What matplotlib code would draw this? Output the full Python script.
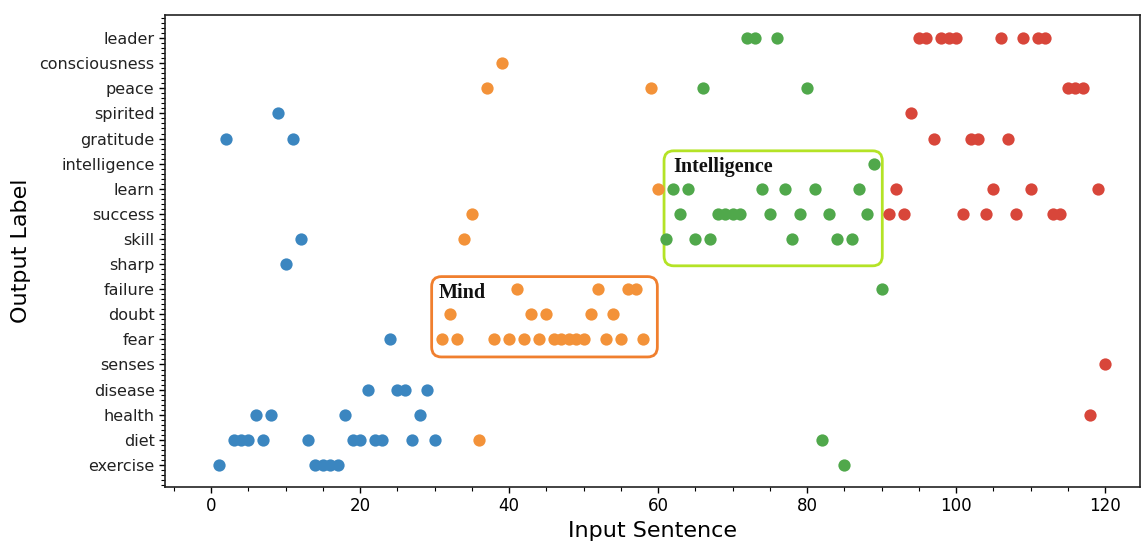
import matplotlib
matplotlib.use("Agg")
import matplotlib.pyplot as plt
from matplotlib.patches import FancyBboxPatch
from matplotlib.ticker import MultipleLocator, AutoMinorLocator

# Output label categories (bottom to top)
categories = ["exercise", "diet", "health", "disease", "senses", "fear", "doubt",
              "failure", "sharp", "skill", "success", "learn", "intelligence",
              "gratitude", "spirited", "peace", "consciousness", "leader"]

# Predicted label for each input sentence, grouped by colour
blue_x = list(range(1, 31))
blue_labels = ["exercise", "gratitude", "diet", "diet", "diet", "health", "diet", "health",
               "spirited", "sharp", "gratitude", "skill", "diet", "exercise", "exercise",
               "exercise", "exercise", "health", "diet", "diet", "disease", "diet", "diet",
               "fear", "disease", "disease", "diet", "health", "disease", "diet"]

orange_x = list(range(31, 61))
orange_labels = ["fear", "doubt", "fear", "skill", "success", "diet", "peace", "fear",
                 "consciousness", "fear", "failure", "fear", "doubt", "fear", "doubt",
                 "fear", "fear", "fear", "fear", "fear", "doubt", "failure", "fear",
                 "doubt", "fear", "failure", "failure", "fear", "peace", "learn"]

green_x = list(range(61, 91))
green_labels = ["skill", "learn", "success", "learn", "skill", "peace", "skill", "success",
                "success", "success", "success", "leader", "leader", "learn", "success",
                "leader", "learn", "skill", "success", "peace", "learn", "diet", "success",
                "skill", "exercise", "skill", "learn", "success", "intelligence", "failure"]

red_x = list(range(91, 121))
red_labels = ["success", "learn", "success", "spirited", "leader", "leader", "gratitude",
              "leader", "leader", "leader", "success", "gratitude", "gratitude", "success",
              "learn", "leader", "gratitude", "success", "leader", "learn", "leader",
              "leader", "success", "success", "peace", "peace", "peace", "health",
              "learn", "senses"]

xticks = [0, 20, 40, 60, 80, 100, 120]

colors = ["#3b86c0", "#f39239", "#50a84b", "#d8463a"]

fig = plt.figure(figsize=(11.42, 5.42), dpi=100)
ax = fig.add_axes([165 / 1142, 1 - 487 / 542, (1140 - 165) / 1142, (487 - 15) / 542])

idx = {c: i for i, c in enumerate(categories)}
for xs, labs, col in [(blue_x, blue_labels, colors[0]), (orange_x, orange_labels, colors[1]),
                      (green_x, green_labels, colors[2]), (red_x, red_labels, colors[3])]:
    ax.scatter(xs, [idx[l] for l in labs], s=78, color=col, zorder=3, linewidths=0)

ax.set_yticks(range(len(categories)))
ax.set_yticklabels(categories, fontsize=11.5, color="#222222")
ax.set_xticks(xticks)
ax.tick_params(axis="x", labelsize=12)
ax.xaxis.set_minor_locator(MultipleLocator(5))
ax.yaxis.set_minor_locator(AutoMinorLocator(5))
ax.tick_params(which="major", length=4, width=1)
ax.tick_params(which="minor", length=3, width=0.8)

ax.set_xlim(-6.2, 124.7)
ax.set_ylim(-0.88, 17.92)

ax.set_xlabel("Input Sentence", fontsize=16, labelpad=4)
ax.set_ylabel("Output Label", fontsize=16, labelpad=6)

for sp in ax.spines.values():
    sp.set_visible(True)
    sp.set_linewidth(1.2)
    sp.set_color("#222222")

# Annotation boxes
mind = FancyBboxPatch((29.6, 4.3), 30.3, 3.2, boxstyle="round,pad=0,rounding_size=1.3",
                      mutation_aspect=1 / 3.3, fill=False, edgecolor="#f07f2e", linewidth=2,
                      zorder=2)
ax.add_patch(mind)
ax.text(30.6, 6.86, "Mind", fontsize=14.5, fontweight="bold", family="Liberation Serif",
        va="center", ha="left", color="#111111")

intel = FancyBboxPatch((60.8, 7.93), 29.3, 4.58, boxstyle="round,pad=0,rounding_size=1.3",
                       mutation_aspect=1 / 3.3, fill=False, edgecolor="#b4e326", linewidth=2,
                       zorder=2)
ax.add_patch(intel)
ax.text(62.0, 11.86, "Intelligence", fontsize=14.5, fontweight="bold", family="Liberation Serif",
        va="center", ha="left", color="#111111")

fig.savefig("out.png", dpi=100)
